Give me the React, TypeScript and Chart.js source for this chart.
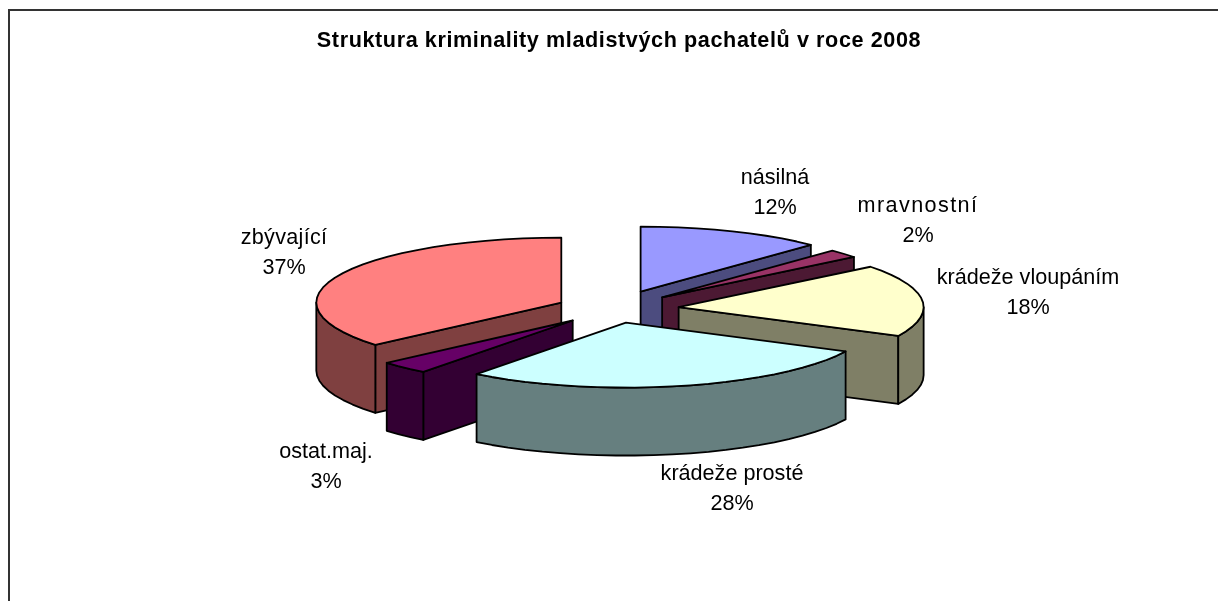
import { useEffect, useRef } from "react";
import { Chart, registerables } from "chart.js";

Chart.register(...registerables);

const chartTitle = "Struktura kriminality mladistvých pachatelů v roce 2008";
const categories = ["násilná", "mravnostní", "krádeže vloupáním", "krádeže prosté", "ostat.maj.", "zbývající"];
const shares = [12.3, 2.1, 18.1, 28.3, 3.3, 36.5];
const topColors = ["#9999FF", "#993366", "#FFFFCC", "#CCFFFF", "#660066", "#FF8080"];
const wallColors = ["#4C4C7F", "#4C1933", "#7F7F66", "#667F7F", "#330033", "#7F4040"];
const explode = [71, 65, 65, 53, 60, 58];

const TILT = 0.265;
const DEPTH = 68;
const PIE_SHIFT_X = -5;
const FONT = "'Liberation Sans', Arial, sans-serif";
const labelAnchors = [
  [775, 178],
  [918, 206],
  [1028, 278],
  [732, 474],
  [326, 452],
  [284, 238],
];
const labelTracking = [0, 1.4, 0, 0, 0, 0.3];

const piePlugin = {
  id: "pie3d",
  beforeDraw(chart: any) {
    const { ctx, width, height } = chart;
    ctx.save();
    ctx.fillStyle = "#333333";
    ctx.fillRect(8, 9, 2, height - 9);
    ctx.fillRect(8, 9, width - 8, 2);
    ctx.restore();
    ctx.letterSpacing = "0.6px";
  },
  beforeDatasetDraw(chart: any) {
    const { ctx } = chart;
    ctx.letterSpacing = "0px";
    const arcs = chart.getDatasetMeta(0).data.map((el: any, i: number) => {
      const p = el.getProps(["x", "y", "startAngle", "endAngle", "outerRadius"], true);
      const off = (el.options.offset || 0) / 4;
      const mid = (p.startAngle + p.endAngle) / 2;
      return { i, p, cx: p.x + PIE_SHIFT_X + off * Math.cos(mid), cy: p.y + TILT * off * Math.sin(mid) };
    });
    arcs.sort((a: any, b: any) => a.cy - b.cy);

    ctx.save();
    ctx.lineWidth = 1.8;
    ctx.lineJoin = "round";
    ctx.strokeStyle = "#000000";
    for (const a of arcs) {
      const { startAngle: s, endAngle: e, outerRadius: r } = a.p;
      const pt = (ang: number, rad: number, z: number) => [
        a.cx + rad * Math.cos(ang),
        a.cy + TILT * rad * Math.sin(ang) + z,
      ];
      const poly = (pts: number[][], fill: string) => {
        ctx.beginPath();
        pts.forEach((q, k) => (k ? ctx.lineTo(q[0], q[1]) : ctx.moveTo(q[0], q[1])));
        ctx.closePath();
        ctx.fillStyle = fill;
        ctx.fill();
        ctx.stroke();
      };
      const rim = (from: number, to: number, z: number) => {
        const n = Math.max(2, Math.ceil((to - from) / 0.08));
        const out: number[][] = [];
        for (let k = 0; k <= n; k++) out.push(pt(from + ((to - from) * k) / n, r, z));
        return out;
      };
      const wall = wallColors[a.i];
      // radial faces that turn toward the viewer
      if (Math.cos(s) < 0) {
        poly([pt(s, 0, 0), pt(s, r, 0), pt(s, r, DEPTH), pt(s, 0, DEPTH)], wall);
      }
      if (Math.cos(e) > 0) {
        poly([pt(e, 0, 0), pt(e, r, 0), pt(e, r, DEPTH), pt(e, 0, DEPTH)], wall);
      }
      // curved outer face
      const from = Math.max(s, 0);
      const to = Math.min(e, Math.PI);
      if (to > from) {
        poly([...rim(from, to, 0), ...rim(from, to, DEPTH).reverse()], wall);
      }
      // top face
      poly([pt(s, 0, 0), ...rim(s, e, 0)], topColors[a.i]);
    }
    ctx.restore();
    return false;
  },
  afterDatasetsDraw(chart: any) {
    const { ctx } = chart;
    ctx.save();
    ctx.fillStyle = "#000000";
    ctx.textAlign = "center";
    ctx.textBaseline = "middle";
    ctx.font = `21.6px ${FONT}`;
    categories.forEach((name, i) => {
      const [x, y] = labelAnchors[i];
      ctx.letterSpacing = `${labelTracking[i]}px`;
      ctx.fillText(name, x, y);
      ctx.letterSpacing = "0px";
      ctx.fillText(`${Math.round(shares[i])}%`, x, y + 30);
    });
    ctx.restore();
  },
};

export default function App() {
  const ref = useRef<HTMLCanvasElement>(null);
  useEffect(() => {
    const chart = new Chart(ref.current as HTMLCanvasElement, {
      type: "pie",
      data: {
        labels: categories,
        datasets: [
          {
            data: shares,
            backgroundColor: topColors,
            borderColor: "#000000",
            borderWidth: 1.5,
            offset: explode.map((v) => v * 4),
          },
        ],
      },
      options: {
        animation: false,
        responsive: false,
        radius: 245,
        layout: { padding: { top: 20, bottom: 45, left: 20, right: 0 } },
        plugins: {
          legend: { display: false },
          tooltip: { enabled: false },
          title: {
            display: true,
            text: chartTitle,
            color: "#000000",
            font: { family: FONT, size: 21.6, weight: "bold" },
            padding: { top: 8, bottom: 8 },
          },
        },
      },
      plugins: [piePlugin],
    } as any);
    return () => chart.destroy();
  }, []);
  return (
    <canvas
      ref={ref}
      width={1218}
      height={601}
      style={{ position: "fixed", left: 0, top: 0, width: 1218, height: 601, background: "#fff" }}
    />
  );
}
